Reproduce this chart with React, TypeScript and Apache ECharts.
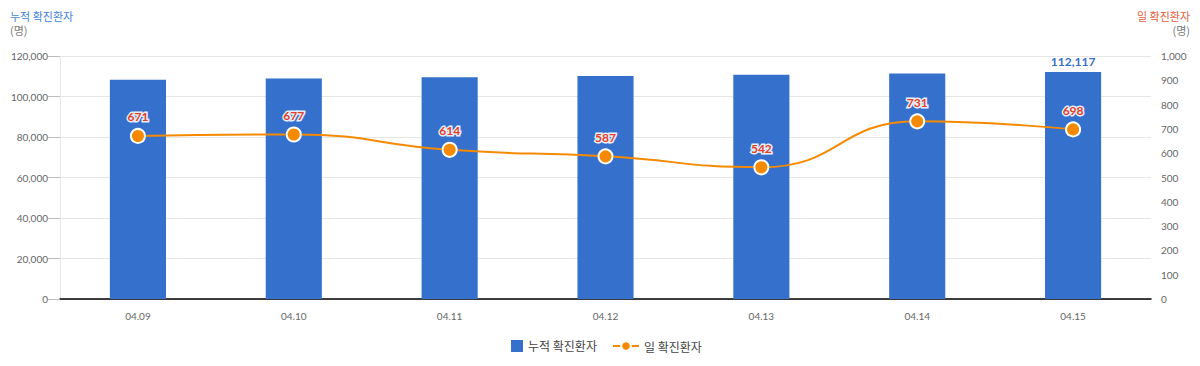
import React, { useEffect, useRef } from "react";
import * as echarts from "echarts";

const categories = ["04.09", "04.10", "04.11", "04.12", "04.13", "04.14", "04.15"];
const cumulative = [108268, 108945, 109559, 110146, 110688, 111419, 112117];
const daily = [671, 677, 614, 587, 542, 731, 698];

const FONT = "Lato, 'Noto Sans CJK KR', sans-serif";
const KFONT = "'Noto Sans CJK KR', sans-serif";

export default function App() {
  const ref = useRef<HTMLDivElement>(null);
  useEffect(() => {
    if (!ref.current) return;
    const chart = echarts.init(ref.current, undefined, { renderer: "svg" });
    const legendText = { color: "#444", fontSize: 12, fontFamily: KFONT };
    chart.setOption({
      animation: false,
      textStyle: { fontFamily: FONT },
      graphic: [
        { type: "text", left: 2, top: 2, style: { text: "누적 확진환자", fill: "#3f7fd6", font: `11px ${KFONT}` } },
        { type: "text", left: 2, top: 16, style: { text: "(명)", fill: "#777", font: `11px ${KFONT}` } },
        { type: "text", right: 2, top: 2, style: { text: "일 확진환자", fill: "#e2603c", font: `11px ${KFONT}` } },
        { type: "text", right: 2, top: 16, style: { text: "(명)", fill: "#777", font: `11px ${KFONT}` } },
      ],
      grid: { left: 52, right: 41, top: 48, bottom: 59, containLabel: false, outerBoundsMode: "none" },
      legend: [
        {
          left: 498,
          bottom: 1,
          padding: 5,
          itemWidth: 12,
          itemHeight: 12,
          textStyle: legendText,
          data: [{ name: "누적 확진환자", icon: "rect", itemStyle: { color: "#3470cc" } }],
        },
        {
          left: 599,
          bottom: 1,
          padding: 5,
          itemWidth: 26,
          itemHeight: 12,
          textStyle: legendText,
          data: [{ name: "일 확진환자" }],
        },
      ],
      xAxis: {
        type: "category",
        data: categories,
        axisLine: { lineStyle: { color: "#000", width: 1.5 } },
        axisTick: { show: false },
        axisLabel: { color: "#666", fontSize: 10, margin: 12 },
      },
      yAxis: [
        {
          type: "value",
          min: 0,
          max: 120000,
          interval: 20000,
          axisLine: { show: true, lineStyle: { color: "#e6e6e6" } },
          axisTick: { show: true, length: 12, lineStyle: { color: "#bbb" } },
          axisLabel: {
            color: "#666",
            fontSize: 10,
            margin: 12,
            formatter: (v: number) => v.toLocaleString("en-US"),
          },
          splitLine: { lineStyle: { color: "#e6e6e6" } },
        },
        {
          type: "value",
          min: 0,
          max: 1000,
          interval: 100,
          position: "right",
          axisLine: { show: false },
          axisTick: { show: false },
          axisLabel: {
            color: "#666",
            fontSize: 10,
            margin: 10,
            formatter: (v: number) => v.toLocaleString("en-US"),
          },
          splitLine: { show: false },
        },
      ],
      series: [
        {
          name: "누적 확진환자",
          type: "bar",
          yAxisIndex: 0,
          barWidth: "36%",
          data: cumulative.map((v, i) =>
            i === cumulative.length - 1
              ? {
                  value: v,
                  label: {
                    show: true,
                    position: "top",
                    distance: 4,
                    color: "#3470cc",
                    fontSize: 12,
                    fontWeight: "bold",
                    formatter: (p: any) => Number(p.value).toLocaleString("en-US"),
                  },
                }
              : v
          ),
          itemStyle: { color: "#3470cc" },
        },
        {
          name: "일 확진환자",
          type: "line",
          yAxisIndex: 1,
          smooth: true,
          data: daily,
          symbol: "circle",
          symbolSize: 14,
          lineStyle: { color: "#f58a00", width: 2 },
          itemStyle: { color: "#f58a00", borderColor: "#fff", borderWidth: 2 },
          label: {
            show: true,
            position: "top",
            distance: 5,
            color: "#e0402a",
            fontSize: 12,
            fontWeight: "bold",
            textBorderColor: "#e8eef8",
            textBorderWidth: 3,
          },
          z: 5,
        },
      ],
    });
    return () => chart.dispose();
  }, []);
  return <div ref={ref} style={{ width: 1184, height: 350 }} />;
}
